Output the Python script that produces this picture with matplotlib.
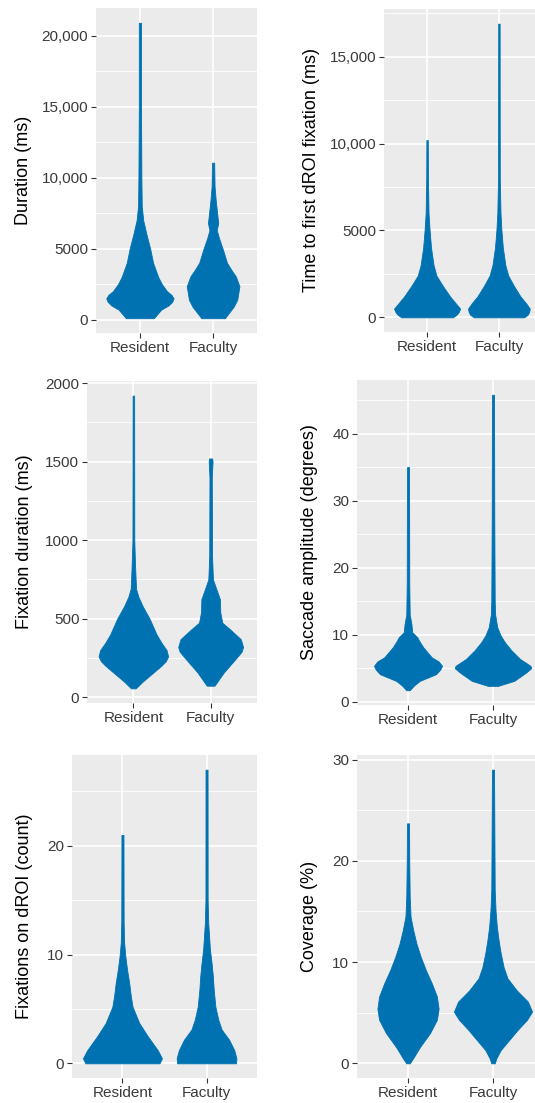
import matplotlib.pyplot as plt
import numpy as np

plt.rcParams['font.family'] = ['Liberation Sans', 'DejaVu Sans']

categories = ["Resident", "Faculty"]

# violin profiles: (value, half-width in category units)
duration_res = [(100, 0.19), (400, 0.24), (700, 0.29), (1000, 0.39), (1250, 0.44), (1500, 0.46),
                (1750, 0.43), (2000, 0.37), (2500, 0.30), (3000, 0.25), (4000, 0.18), (5000, 0.14),
                (6000, 0.09), (7000, 0.045), (8000, 0.025), (10000, 0.02), (12000, 0.018),
                (15000, 0.015), (20900, 0.015)]
duration_fac = [(100, 0.16), (500, 0.22), (900, 0.28), (1400, 0.33), (2350, 0.36), (3050, 0.31),
                (3500, 0.25), (4000, 0.19), (5000, 0.13), (5750, 0.08), (6300, 0.05), (6800, 0.07),
                (7500, 0.055), (8450, 0.035), (9400, 0.02), (11050, 0.015)]

ttff_res = [(0, 0.36), (150, 0.41), (300, 0.44), (500, 0.46), (800, 0.40), (1200, 0.32),
            (1800, 0.22), (2400, 0.13), (3000, 0.09), (4000, 0.055), (5000, 0.035),
            (6000, 0.02), (8000, 0.012), (10200, 0.01)]
ttff_fac = [(0, 0.35), (150, 0.40), (300, 0.42), (500, 0.43), (800, 0.38), (1200, 0.30),
            (1800, 0.21), (2400, 0.13), (3000, 0.09), (4000, 0.055), (5000, 0.035),
            (6000, 0.022), (8000, 0.012), (16900, 0.01)]

fixdur_res = [(57, 0.03), (100, 0.12), (150, 0.24), (200, 0.36), (230, 0.42), (260, 0.45),
              (300, 0.43), (350, 0.36), (400, 0.30), (500, 0.21), (580, 0.12), (640, 0.065),
              (690, 0.035), (800, 0.025), (900, 0.018), (1000, 0.012), (1920, 0.01)]
fixdur_fac = [(74, 0.05), (158, 0.17), (243, 0.32), (290, 0.40), (320, 0.42), (370, 0.39),
              (433, 0.25), (475, 0.15), (540, 0.125), (624, 0.12), (687, 0.075), (750, 0.03),
              (900, 0.018), (1400, 0.015), (1500, 0.025), (1520, 0.02)]

saccade_res = [(1.7, 0.02), (2.4, 0.07), (3.1, 0.14), (4.1, 0.33), (4.8, 0.38), (5.35, 0.40),
               (6.0, 0.36), (6.6, 0.28), (8.1, 0.18), (9.1, 0.13), (9.6, 0.11), (10.35, 0.05),
               (11.6, 0.04), (13, 0.02), (17.5, 0.015), (35, 0.012)]
saccade_fac = [(2.35, 0.06), (3.1, 0.25), (4.35, 0.39), (5.0, 0.45), (5.35, 0.44), (6.35, 0.32),
               (7.6, 0.22), (8.85, 0.14), (9.85, 0.09), (11.1, 0.05), (13, 0.025), (15, 0.02),
               (27.5, 0.015), (45.8, 0.012)]

fixcount_res = [(0, 0.44), (0.46, 0.47), (1.2, 0.42), (2.5, 0.30), (3.7, 0.20), (5.2, 0.12),
                (6.15, 0.10), (7.4, 0.08), (8.6, 0.055), (9.8, 0.035), (11.1, 0.02),
                (13, 0.014), (21, 0.012)]
fixcount_fac = [(0, 0.35), (0.46, 0.355), (1.2, 0.33), (2.15, 0.27), (3.1, 0.18), (4.0, 0.14),
                (5.2, 0.105), (6.8, 0.085), (8.0, 0.075), (9.2, 0.06), (10.5, 0.04),
                (11.7, 0.03), (12.9, 0.02), (15, 0.013), (27, 0.012)]

coverage_res = [(0, 0.02), (0.5, 0.06), (1.6, 0.14), (3.0, 0.26), (4.3, 0.34), (5.4, 0.36),
                (6.6, 0.34), (7.9, 0.28), (9.2, 0.21), (10.5, 0.15), (11.8, 0.10), (13.2, 0.06),
                (14.5, 0.03), (16.5, 0.02), (19.7, 0.015), (23.7, 0.012)]
coverage_fac = [(0, 0.02), (0.5, 0.04), (1.3, 0.09), (2.1, 0.17), (3.3, 0.29), (4.3, 0.40),
                (5.1, 0.46), (6.1, 0.41), (7.2, 0.28), (8.4, 0.17), (9.5, 0.125), (10.9, 0.09),
                (12.2, 0.065), (13.5, 0.045), (15.1, 0.03), (17.1, 0.02), (29, 0.012)]

duration_ticks = [0, 5000, 10000, 15000, 20000]
duration_labels = ["0", "5000", "10,000", "15,000", "20,000"]
ttff_ticks = [0, 5000, 10000, 15000]
ttff_labels = ["0", "5000", "10,000", "15,000"]
fixdur_ticks = [0, 500, 1000, 1500, 2000]
saccade_ticks = [0, 10, 20, 30, 40]
fixcount_ticks = [0, 10, 20]
coverage_ticks = [0, 10, 20, 30]

ylabels = ["Duration (ms)", "Time to first dROI fixation (ms)", "Fixation duration (ms)",
           "Saccade amplitude (degrees)", "Fixations on dROI (count)", "Coverage (%)"]

BLUE = "#0072B2"
W, H = 535, 1103
fig = plt.figure(figsize=(W / 100, H / 100), dpi=100)

# (left, top, right, bottom) in pixels, y-label centre x in pixels
layout = [
    ((96, 8, 257, 333), 24),
    ((384, 9, 542, 332), 312),
    ((87, 381, 257, 703), 25),
    ((357, 380, 544, 705), 310),
    ((72, 755, 257, 1078), 25),
    ((357, 755, 544, 1078), 310),
]

panels = [
    (duration_res, duration_fac, duration_ticks, duration_labels, 2500),
    (ttff_res, ttff_fac, ttff_ticks, ttff_labels, 2500),
    (fixdur_res, fixdur_fac, fixdur_ticks, [str(t) for t in fixdur_ticks], 250),
    (saccade_res, saccade_fac, saccade_ticks, [str(t) for t in saccade_ticks], 5),
    (fixcount_res, fixcount_fac, fixcount_ticks, [str(t) for t in fixcount_ticks], 5),
    (coverage_res, coverage_fac, coverage_ticks, [str(t) for t in coverage_ticks], 5),
]

for (res, fac, ticks, labels, minor_step), ((l, t, r, b), lab_x), ylabel in zip(panels, layout, ylabels):
    ax = fig.add_axes([l / W, 1 - b / H, (r - l) / W, (b - t) / H])
    ax.set_facecolor("#EBEBEB")
    for s in ax.spines.values():
        s.set_visible(False)

    lo = min(v for v, _ in res + fac)
    hi = max(v for v, _ in res + fac)
    pad = 0.05 * (hi - lo)
    ax.set_ylim(lo - pad, hi + pad)
    ax.set_xlim(0.4, 2.6)

    # grid lines
    minors = np.arange(-minor_step, hi + pad + minor_step, minor_step)
    for m in minors:
        if m not in ticks:
            ax.axhline(m, color="white", lw=0.6, zorder=0)
    for tk in ticks:
        ax.axhline(tk, color="white", lw=1.2, zorder=0)
    for xc in [1, 2]:
        ax.axvline(xc, color="white", lw=1.2, zorder=0)

    for xc, prof in zip([1, 2], [res, fac]):
        vals = np.array([p[0] for p in prof])
        half = np.array([p[1] for p in prof])
        ax.fill_betweenx(vals, xc - half, xc + half, color=BLUE, lw=0.6,
                         edgecolor=BLUE, joinstyle="round", zorder=2)

    ax.set_xticks([1, 2])
    ax.set_xticklabels(categories)
    ax.set_yticks(ticks)
    ax.set_yticklabels(labels)
    ax.tick_params(axis="both", length=3.5, width=0.8, color="#333333",
                   labelcolor="#3A3A3A", labelsize=11, pad=2)
    ax.set_ylabel(ylabel, fontsize=13, color="black", va="center")
    ax.yaxis.set_label_coords((lab_x - l) / (r - l), 0.5)

fig.savefig("out.png", dpi=100, facecolor="white")
